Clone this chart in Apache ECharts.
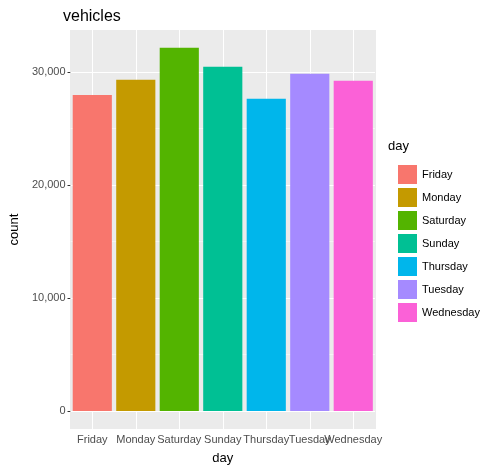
<!DOCTYPE html>
<html><head><meta charset="utf-8">
<script src="https://cdn.jsdelivr.net/npm/echarts@6/dist/echarts.min.js"></script>
<style>body{margin:0;background:#fff}#chart{width:502px;height:473px}</style>
</head><body><div id="chart"></div>
<script>
var days = ['Friday', 'Monday', 'Saturday', 'Sunday', 'Thursday', 'Tuesday', 'Wednesday'];
var counts = [27960, 29290, 32120, 30440, 27610, 29820, 29200];
var colors = ['#F8766D', '#C49A00', '#53B400', '#00C094', '#00B6EB', '#A58AFF', '#FB61D7'];
var yTicks = [0, 10000, 20000, 30000];
var yMinor = [5000, 15000, 25000];

var myChart = echarts.init(document.getElementById('chart'));
var series = days.map(function (d, i) {
    var data = days.map(function (x, j) { return j === i ? counts[j] : '-'; });
    return {
        name: d, type: 'bar', stack: 'a', data: data, z: 10,
        barCategoryGap: '10%', itemStyle: {color: colors[i]}, xAxisIndex: 0
    };
});
option = {
    textStyle: {fontFamily: 'Liberation Sans'},
    title: {text: 'vehicles', left: 58, top: 4, textStyle: {fontSize: 16, fontWeight: 'normal', color: '#000'}},
    grid: {left: 65, right: 127, top: 30, bottom: 44, show: true, backgroundColor: '#EBEBEB', borderWidth: 0},
    legend: {
        orient: 'vertical', left: 393, top: 160, itemWidth: 19, itemHeight: 19, itemGap: 4,
        icon: 'rect', textStyle: {fontSize: 11, color: '#000'}, data: days
    },
    graphic: [{type: 'text', left: 388, top: 140, style: {text: 'day', fontSize: 13, fill: '#000', fontFamily: 'Liberation Sans'}}],
    xAxis: [{
        type: 'category', data: days, name: 'day', nameLocation: 'middle', nameGap: 23,
        nameTextStyle: {fontSize: 13, color: '#000'},
        axisLine: {show: false}, axisTick: {alignWithLabel: true, length: 3, lineStyle: {color: '#333'}},
        axisLabel: {color: '#4D4D4D', fontSize: 11, interval: 0, margin: 5},
        splitLine: {show: false}
    }, {
        type: 'value', min: 0, max: 14, interval: 1, show: true, position: 'bottom',
        axisLine: {show: false}, axisTick: {show: false}, axisLabel: {show: false},
        splitLine: {show: true, lineStyle: {color: ['#EBEBEB', '#ffffff'], width: 1}}
    }],
    yAxis: {
        type: 'value', min: -1600, max: 33700,
        name: 'count', nameLocation: 'middle', nameGap: 44, nameTextStyle: {fontSize: 13, color: '#000'},
        axisLine: {show: false},
        axisTick: {show: true, length: 3, customValues: yTicks, lineStyle: {color: '#333'}},
        axisLabel: {color: '#4D4D4D', fontSize: 11, margin: 5, customValues: yTicks},
        splitLine: {show: false}
    },
    series: series.concat([{
        type: 'line', data: [], z: 1, markLine: {
            silent: true, symbol: 'none', label: {show: false}, z: 1,
            data: yTicks.map(function (v) { return {yAxis: v, lineStyle: {color: '#fff', width: 1.2, type: 'solid'}}; })
                .concat(yMinor.map(function (v) { return {yAxis: v, lineStyle: {color: '#fff', width: 0.5, type: 'solid'}}; }))
        }
    }])
};
myChart.setOption(option);
</script></body></html>
